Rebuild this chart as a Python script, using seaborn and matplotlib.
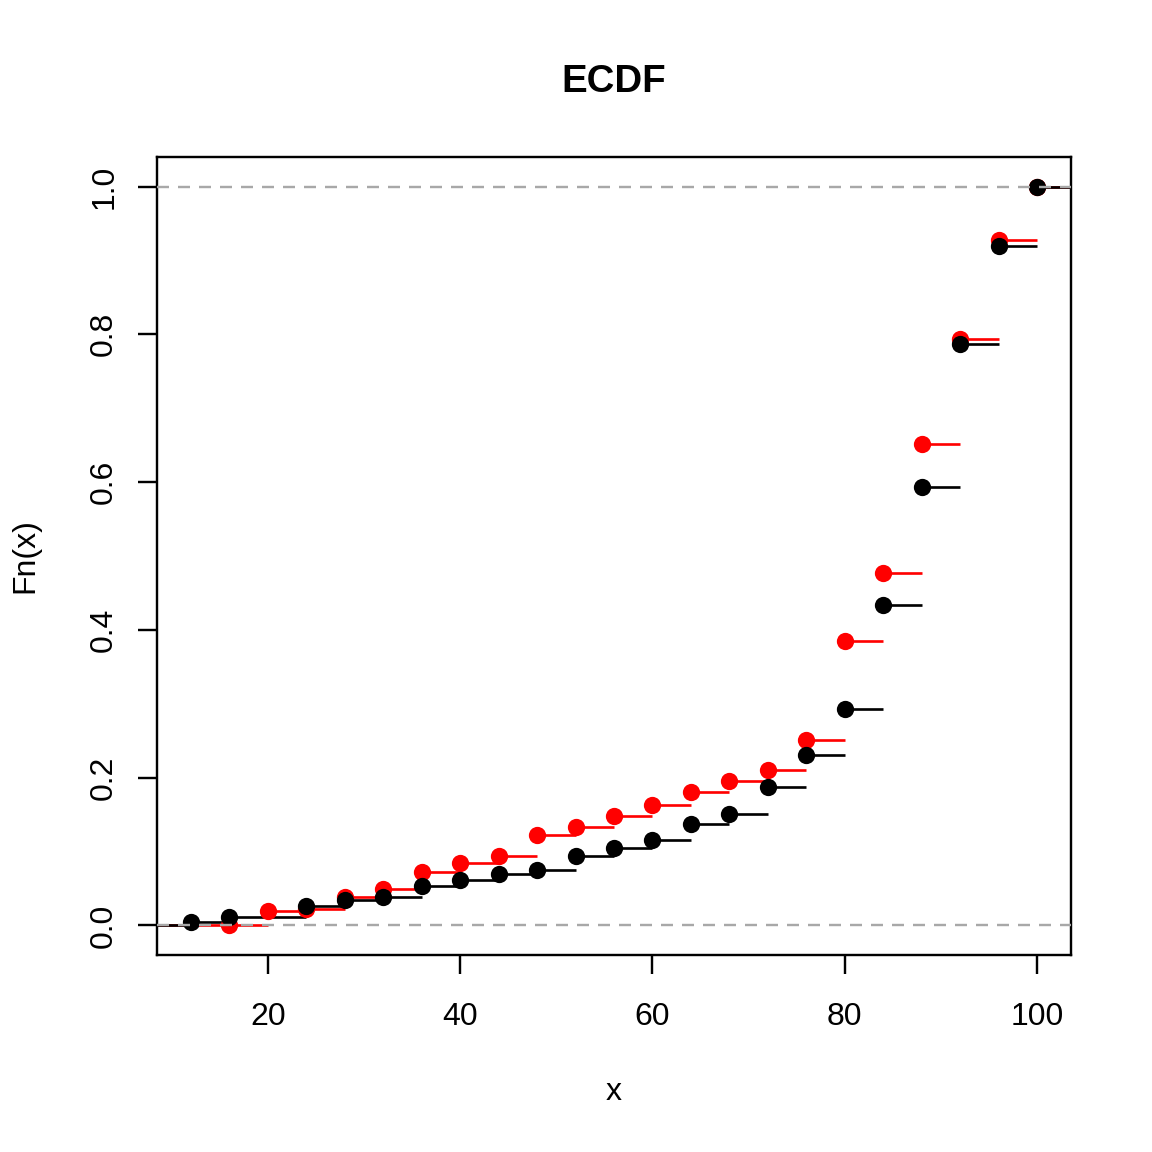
import numpy as np
import pandas as pd
import matplotlib
matplotlib.use("Agg")
import matplotlib.pyplot as plt
import seaborn as sns

# knots and ECDF values
black_x = [12, 16, 24, 28, 32, 36, 40, 44, 48, 52, 56, 60, 64, 68, 72, 76,
           80, 84, 88, 92, 96, 100]
black_y = [0.004, 0.011, 0.026, 0.035, 0.039, 0.054, 0.061, 0.069, 0.075,
           0.094, 0.105, 0.116, 0.137, 0.151, 0.187, 0.231, 0.293, 0.434,
           0.593, 0.787, 0.919, 1.0]

red_x = [16, 20, 24, 28, 32, 36, 40, 44, 48, 52, 56, 60, 64, 68, 72, 76,
         80, 84, 88, 92, 96, 100]
red_y = [0.001, 0.019, 0.022, 0.038, 0.050, 0.072, 0.085, 0.094, 0.122,
         0.133, 0.148, 0.163, 0.181, 0.196, 0.211, 0.251, 0.385, 0.477,
         0.651, 0.794, 0.927, 1.0]

x_ticks = [20, 40, 60, 80, 100]
y_ticks = [0.0, 0.2, 0.4, 0.6, 0.8, 1.0]

sns.set_style("white")
plt.rcParams["font.family"] = ["Liberation Sans", "DejaVu Sans"]
plt.rcParams["font.size"] = 12
plt.rcParams["text.color"] = "black"

fig = plt.figure(figsize=(6, 6), dpi=192)
ax = fig.add_axes([157 / 1152, 1 - 955 / 1152, 914 / 1152, 798 / 1152])

xlim = (8.48, 103.52)
ylim = (-0.04, 1.04)


def draw_ecdf(xs, ys, color):
    # horizontal steps: left tail at 0, each knot to the next, right tail
    starts = [xlim[0] - 5] + list(xs)
    ends = list(xs) + [xlim[1] + 5]
    levels = [0.0] + list(ys)
    ax.hlines(levels, starts, ends, colors=color, linewidth=1.0, zorder=2)
    df = pd.DataFrame({"x": xs, "y": ys})
    sns.scatterplot(data=df, x="x", y="y", color=color, s=42,
                    linewidth=0, ax=ax, zorder=3)


draw_ecdf(red_x, red_y, "#FF0000")
draw_ecdf(black_x, black_y, "black")

for level in [0, 1]:
    ax.axhline(level, color="#A8A8A8", linestyle=(0, (5, 3.75)),
               linewidth=0.9, zorder=4)

ax.set_xlim(*xlim)
ax.set_ylim(*ylim)
ax.set_xticks(x_ticks)
ax.set_xticklabels([str(v) for v in x_ticks])
ax.set_yticks(y_ticks)
ax.set_yticklabels([f"{v:.1f}" for v in y_ticks], rotation=90, va="center")

for side in ["left", "right", "top", "bottom"]:
    ax.spines[side].set_visible(True)
    ax.spines[side].set_color("black")
    ax.spines[side].set_linewidth(0.9)

ax.tick_params(axis="both", direction="out", length=7.2, width=0.9,
               color="black", labelsize=12, labelcolor="black")
ax.tick_params(axis="x", pad=10.5, bottom=True)
ax.tick_params(axis="y", pad=7, left=True)

ax.set_xlabel("")
ax.set_ylabel("")
fig.text(614 / 1152, 1 - 91.7 / 1152, "ECDF", ha="center", va="baseline",
         fontsize=14.4, fontweight="bold", color="black")
fig.text(614 / 1152, 1 - 1100 / 1152, "x", ha="center", va="baseline",
         fontsize=12, color="black")
fig.text(33 / 1152, 1 - 556 / 1152, "Fn(x)", ha="center", va="baseline",
         rotation=90, rotation_mode="anchor", fontsize=12, color="black")

fig.savefig("out.png", dpi=192)
plt.close(fig)
